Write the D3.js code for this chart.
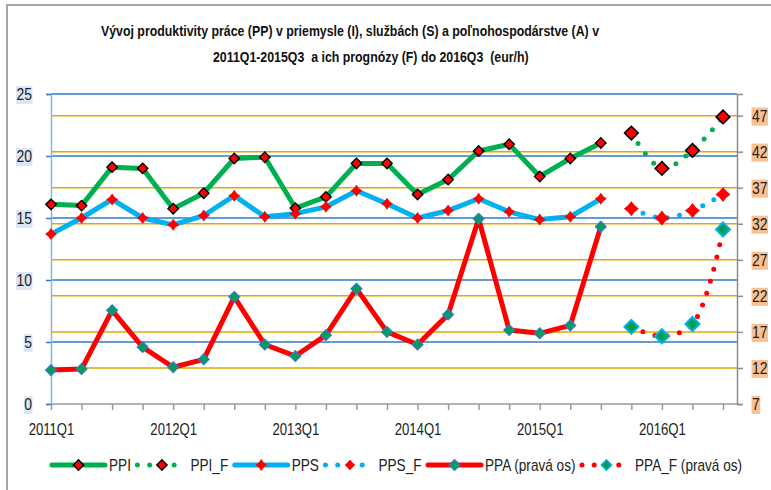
<!DOCTYPE html>
<html>
<head>
<meta charset="utf-8">
<script src="https://cdn.jsdelivr.net/npm/d3@7"></script>
<style>
  body { margin: 0; background: #fff; }
  svg { display: block; font-family: "Liberation Sans", Arial, sans-serif; }
</style>
</head>
<body>
<div id="chart"></div>
<script>
const quarters = [
    "2011Q1", "2011Q2", "2011Q3", "2011Q4",
    "2012Q1", "2012Q2", "2012Q3", "2012Q4",
    "2013Q1", "2013Q2", "2013Q3", "2013Q4",
    "2014Q1", "2014Q2", "2014Q3", "2014Q4",
    "2015Q1", "2015Q2", "2015Q3", "2015Q4",
    "2016Q1", "2016Q2", "2016Q3"
];
const xLabels = ["2011Q1", "2012Q1", "2013Q1", "2014Q1", "2015Q1", "2016Q1"];
const leftTicks = [0, 5, 10, 15, 20, 25];
const rightTicks = [7, 12, 17, 22, 27, 32, 37, 42, 47];

// actual values 2011Q1-2015Q3 (left axis for PPI, PPS; right axis for PPA)
const ppi = [16.1, 16.0, 19.1, 19.0, 15.75, 17.0, 19.8, 19.9, 15.8, 16.7, 19.4, 19.4, 16.9, 18.1, 20.4, 20.95, 18.35, 19.8, 21.05];
const pps = [13.7, 15.0, 16.5, 15.0, 14.45, 15.2, 16.8, 15.1, 15.35, 15.9, 17.2, 16.15, 15.0, 15.6, 16.55, 15.5, 14.87, 15.1, 16.55];
const ppa = [11.7, 11.85, 20.0, 14.9, 12.1, 13.2, 21.85, 15.25, 13.65, 16.55, 23.0, 17.0, 15.25, 19.4, 32.7, 17.25, 16.8, 17.9, 31.6];

// forecasts 2015Q4-2016Q3
const ppiF = [21.85, 19.0, 20.45, 23.15];
const ppsF = [15.75, 15.0, 15.6, 16.9];
const ppaF = [17.7, 16.4, 18.1, 31.2];

const width = 771;
const height = 490;
const plot = {left: 51, right: 737, top: 94, bottom: 404, lastX: 723};

// squeeze text horizontally (narrow font look)
function narrow(sel, k) {
    sel.each(function () {
        const len = this.getComputedTextLength();
        d3.select(this)
            .attr("textLength", len * k)
            .attr("lengthAdjust", "spacingAndGlyphs");
    });
}

const svg = d3.select("#chart")
    .append("svg")
    .attr("width", width)
    .attr("height", height);

// chart area border (only left and top are visible)
svg.append("path")
    .attr("d", `M7,${height} V5 H${width}`)
    .attr("fill", "none")
    .attr("stroke", "#a6a6a6")
    .attr("stroke-width", 2);

// Title
const t1 = svg.append("text")
    .attr("x", 350).attr("y", 36)
    .attr("text-anchor", "middle")
    .style("font-size", "15px").style("font-weight", "bold").attr("fill", "#111")
    .text("Vývoj produktivity práce (PP) v priemysle (I), službách  (S) a poľnohospodárstve (A) v");
const t2 = svg.append("text")
    .attr("x", 213).attr("y", 62)
    .style("font-size", "15px").style("font-weight", "bold").attr("fill", "#111")
    .style("white-space", "pre")
    .text("2011Q1-2015Q3  a ich prognózy (F) do 2016Q3  (eur/h)");
const titleK = 498 / t1.node().getComputedTextLength();
narrow(t1, titleK);
narrow(t2, titleK);

const x = d3.scalePoint()
    .domain(quarters)
    .range([plot.left, plot.lastX]);

const yL = d3.scaleLinear()
    .domain([0, 25])
    .range([plot.bottom, plot.top]);

const yR = d3.scaleLinear()
    .domain([7, 50])
    .range([plot.bottom, plot.top]);

// Gridlines
svg.append("g")
    .selectAll("line")
    .data(leftTicks.filter(d => d > 0))
    .enter()
    .append("line")
    .attr("x1", plot.left).attr("x2", plot.right)
    .attr("y1", d => yL(d)).attr("y2", d => yL(d))
    .attr("stroke", "#2f7bc4")
    .attr("stroke-width", 1.5);

svg.append("g")
    .selectAll("line")
    .data(rightTicks.filter(d => d > 7))
    .enter()
    .append("line")
    .attr("x1", plot.left).attr("x2", plot.right)
    .attr("y1", d => yR(d)).attr("y2", d => yR(d))
    .attr("stroke", "#e0a800")
    .attr("stroke-width", 1.5);

// Axis Y left
const gL = svg.append("g")
    .attr("transform", `translate(${plot.left},0)`)
    .call(d3.axisLeft(yL).tickValues(leftTicks).tickSize(5).tickPadding(14));
gL.select(".domain").attr("stroke", "#8db3e2").attr("stroke-width", 1.5);
gL.selectAll(".tick line").attr("stroke", "#2f7bc4").attr("stroke-width", 1.5);
gL.selectAll(".tick text")
    .attr("font-family", null)
    .style("font-size", "17px").attr("fill", "#222");

// Axis Y right
const gR = svg.append("g")
    .attr("transform", `translate(${plot.right},0)`)
    .call(d3.axisRight(yR).tickValues(rightTicks).tickSize(6).tickPadding(9));
gR.select(".domain").attr("stroke", "#8c8c8c").attr("stroke-width", 1.5);
gR.selectAll(".tick line").attr("stroke", "#8c8c8c").attr("stroke-width", 1.5);
gR.selectAll(".tick text")
    .attr("font-family", null)
    .style("font-size", "17px").attr("fill", "#222");

// Axis X
const gX = svg.append("g")
    .attr("transform", `translate(0,${plot.bottom})`)
    .call(d3.axisBottom(x).tickSize(6).tickPadding(14).tickFormat(d => xLabels.includes(d) ? d : ""));
gX.select(".domain").remove();
gX.selectAll(".tick line").attr("stroke", "#999").attr("stroke-width", 1.5);
gX.selectAll(".tick text")
    .attr("font-family", null)
    .style("font-size", "16px").attr("fill", "#222");
svg.append("line")
    .attr("x1", plot.left).attr("x2", plot.right)
    .attr("y1", plot.bottom).attr("y2", plot.bottom)
    .attr("stroke", "#999").attr("stroke-width", 1.5);

narrow(gL.selectAll(".tick text"), 0.82);
narrow(gR.selectAll(".tick text"), 0.82);
narrow(gX.selectAll(".tick text").filter(d => xLabels.includes(d)), 0.82);

// label backgrounds
function labelBoxes(g, fill) {
    g.selectAll(".tick text").each(function () {
        const b = this.getBBox();
        d3.select(this.parentNode).insert("rect", "text")
            .attr("x", b.x - 0.5).attr("y", b.y + 1)
            .attr("width", b.width + 1).attr("height", b.height - 1)
            .attr("fill", fill);
    });
}
labelBoxes(gL, "#dce6f2");
labelBoxes(gR, "#fac090");

// marker shapes
function star4(r, k) {
    const w = r * k;
    return `M0,${-r}L${w},${-w}L${r},0L${w},${w}L0,${r}L${-w},${w}L${-r},0L${-w},${-w}Z`;
}

const series = [
    {name: "PPI", vals: ppi, start: 0, y: yL, color: "#00b050", dotted: false,
        marker: {path: star4(5.2, 0.5), fill: "#ff0000", stroke: "#000", sw: 1.4}},
    {name: "PPI_F", vals: ppiF, start: 19, y: yL, color: "#00b050", dotted: true,
        marker: {path: star4(6.8, 0.5), fill: "#ff0000", stroke: "#000", sw: 1.6}},
    {name: "PPS", vals: pps, start: 0, y: yL, color: "#00b0f0", dotted: false,
        marker: {path: star4(6, 0.42), fill: "#ff0000", stroke: "none", sw: 0}},
    {name: "PPS_F", vals: ppsF, start: 19, y: yL, color: "#00b0f0", dotted: true,
        marker: {path: star4(7.5, 0.45), fill: "#ff0000", stroke: "none", sw: 0}},
    {name: "PPA (pravá os)", vals: ppa, start: 0, y: yR, color: "#ff0000", dotted: false,
        marker: {path: star4(5.2, 0.5), fill: "#00a050", stroke: "#2f7bc4", sw: 1.5}},
    {name: "PPA_F (pravá os)", vals: ppaF, start: 19, y: yR, color: "#ff0000", dotted: true,
        marker: {path: star4(7, 0.5), fill: "#00a050", stroke: "#00b0f0", sw: 2}}
];

series.forEach(s => {
    const pts = s.vals.map((v, i) => ({q: quarters[s.start + i], v}));
    const line = d3.line()
        .x(d => x(d.q))
        .y(d => s.y(d.v))
        .curve(s.dotted ? d3.curveCatmullRom : d3.curveLinear);

    svg.append("path")
        .datum(pts)
        .attr("d", line)
        .attr("fill", "none")
        .attr("stroke", s.color)
        .attr("stroke-width", 5)
        .attr("stroke-linejoin", "round")
        .attr("stroke-linecap", "round")
        .attr("stroke-dasharray", s.dotted ? "0 12.5" : null);

    svg.append("g")
        .selectAll("path")
        .data(pts)
        .enter()
        .append("path")
        .attr("transform", d => `translate(${x(d.q)},${s.y(d.v)})`)
        .attr("d", s.marker.path)
        .attr("fill", s.marker.fill)
        .attr("stroke", s.marker.stroke)
        .attr("stroke-width", s.marker.sw);
});

// Legend
const legend = svg.append("g").attr("transform", "translate(52,465)");
let lx = 0;
series.forEach(s => {
    const item = legend.append("g").attr("transform", `translate(${lx},0)`);
    if (s.dotted) {
        item.append("line")
            .attr("x1", 0).attr("x2", 49).attr("y1", 0).attr("y2", 0)
            .attr("stroke", s.color).attr("stroke-width", 5)
            .attr("stroke-linecap", "round").attr("stroke-dasharray", "0 12.25");
        item.append("path")
            .attr("transform", "translate(24.5,0)")
            .attr("d", star4(5.2, 0.5))
            .attr("fill", s.marker.fill).attr("stroke", s.marker.stroke)
            .attr("stroke-width", s.marker.stroke === "none" ? 0 : 1.4);
    } else {
        item.append("line")
            .attr("x1", 0).attr("x2", 53).attr("y1", 0).attr("y2", 0)
            .attr("stroke", s.color).attr("stroke-width", 5)
            .attr("stroke-linecap", "round");
        item.append("path")
            .attr("transform", "translate(26.5,0)")
            .attr("d", s.marker.path)
            .attr("fill", s.marker.fill).attr("stroke", s.marker.stroke)
            .attr("stroke-width", s.marker.sw);
    }
    const sw = s.dotted ? 49 : 53;
    const t = item.append("text")
        .attr("x", sw + 4).attr("y", 6)
        .style("font-size", "17px").attr("fill", "#222")
        .text(s.name);
    const len = t.node().getComputedTextLength() * 0.8;
    t.attr("textLength", len).attr("lengthAdjust", "spacingAndGlyphs");
    lx += sw + 4 + len + 6.5;
});
</script>
</body>
</html>
